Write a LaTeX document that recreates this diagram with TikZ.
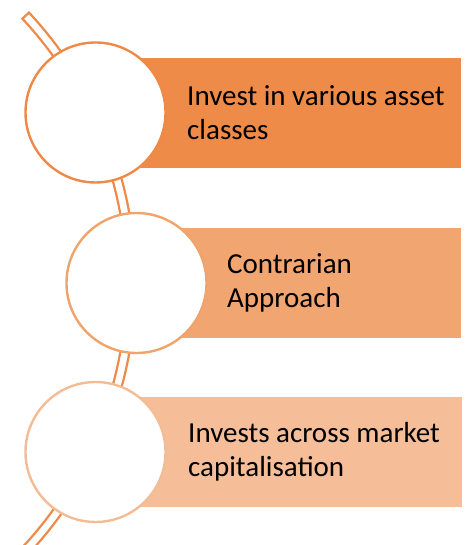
\documentclass[tikz,border=0pt]{standalone}
\usepackage{fontspec}
\setmainfont{Carlito}
\usetikzlibrary{calc}
\definecolor{orA}{HTML}{EF8B49}
\definecolor{orB}{HTML}{F1A672}
\definecolor{orC}{HTML}{F5BE98}
\definecolor{lnA}{HTML}{EE8A45}
\definecolor{lnB}{HTML}{F0A36A}
\definecolor{lnC}{HTML}{F4BC94}
\definecolor{band}{HTML}{EE8A4A}
\tikzset{
  bar/.style={draw=white, line width=0.6pt, inner sep=0pt, minimum height=111pt},
  disc/.style={circle, fill=white, line width=2.4pt, minimum size=140pt, inner sep=0pt},
  lbl/.style={anchor=west, align=left, inner sep=0pt, font=\fontsize{29}{34}\selectfont, text=black}
}
\begin{document}
\begin{tikzpicture}[x=1pt,y=1pt]
\useasboundingbox (0,0) rectangle (468,545);
\clip (0,0) rectangle (468,545);
% bars
\node[bar, fill=orA, minimum width=366pt, anchor=west] (r1) at (95,432.5) {};
\node[bar, fill=orB, minimum width=324pt, anchor=west] (r2) at (137,262) {};
\node[bar, fill=orC, minimum width=367pt, anchor=west] (r3) at (95,93) {};
% curved band
\coordinate (c) at (-261,262);
\draw[band, line width=2.2pt, fill=white, line join=miter]
  ($(c)+(43:396.5)$) arc[start angle=43, end angle=-50, radius=396.5]
  -- ($(c)+(-50:387.5)$) arc[start angle=-50, end angle=43, radius=387.5] -- cycle;
% discs
\node[disc, draw=lnA] (d1) at (95.5,432.5) {};
\node[disc, draw=lnB] (d2) at (136.5,262) {};
\node[disc, draw=lnC] (d3) at (95.5,93) {};
% labels
\node[lbl] (t1) at ([xshift=92pt]r1.west) {Invest in various asset\\classes};
\node[lbl] (t2) at ([xshift=90pt]r2.west) {Contrarian\\Approach};
\node[lbl] (t3) at ([xshift=93pt]r3.west) {Invests across market\\capitalisation};
\end{tikzpicture}
\end{document}
